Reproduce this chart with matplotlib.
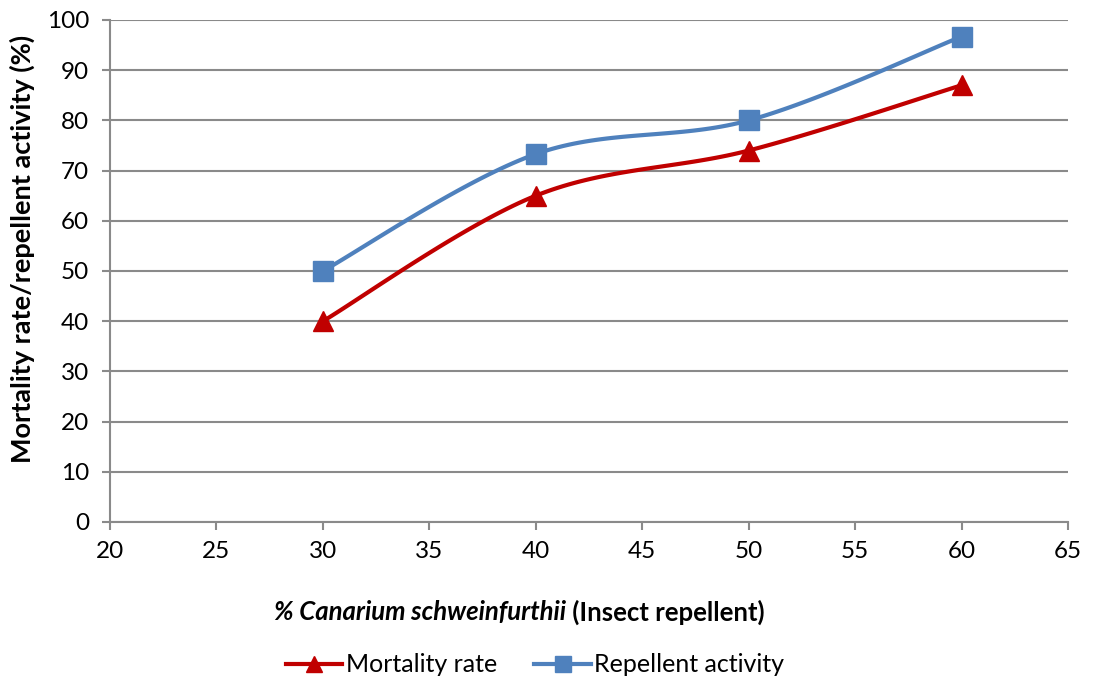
import numpy as np
import matplotlib
matplotlib.use("Agg")
import matplotlib.pyplot as plt
from matplotlib.lines import Line2D

plt.rcParams['font.family'] = ['Lato', 'DejaVu Sans']

concentration = [30, 40, 50, 60]
mortality_rate = [40, 65, 74, 87]
repellent_activity = [50, 73.3, 80, 96.7]

x_ticks = [20, 25, 30, 35, 40, 45, 50, 55, 60, 65]
y_ticks = [0, 10, 20, 30, 40, 50, 60, 70, 80, 90, 100]

RED = '#C00000'
BLUE = '#4F81BD'


def smooth(x, y, n=40):
    x = np.asarray(x, float)
    y = np.asarray(y, float)
    px = np.concatenate([[x[0]], x, [x[-1]]])
    py = np.concatenate([[y[0]], y, [y[-1]]])
    xs, ys = [], []
    for i in range(1, len(x)):
        p0 = np.array([px[i], py[i]])
        p3 = np.array([px[i + 1], py[i + 1]])
        p1 = p0 + (np.array([px[i + 1], py[i + 1]]) - np.array([px[i - 1], py[i - 1]])) / 6
        p2 = p3 - (np.array([px[i + 2], py[i + 2]]) - np.array([px[i], py[i]])) / 6
        t = np.linspace(0, 1, n)[:, None]
        b = (1 - t) ** 3 * p0 + 3 * (1 - t) ** 2 * t * p1 + 3 * (1 - t) * t ** 2 * p2 + t ** 3 * p3
        xs.extend(b[:, 0])
        ys.extend(b[:, 1])
    return np.array(xs), np.array(ys)


fig = plt.figure(figsize=(11.01, 6.83), dpi=100)
ax = fig.add_axes([110 / 1101, 1 - 522 / 683, (1068 - 110) / 1101, (522 - 20) / 683])

sx, sy = smooth(concentration, mortality_rate)
ax.plot(sx, sy, color=RED, lw=3, zorder=3, solid_capstyle='round')
ax.plot(concentration, mortality_rate, ls='none', marker='^', ms=15, color=RED, zorder=4)
sx, sy = smooth(concentration, repellent_activity)
ax.plot(sx, sy, color=BLUE, lw=3, zorder=3, solid_capstyle='round')
ax.plot(concentration, repellent_activity, ls='none', marker='s', ms=15, color=BLUE, zorder=4)

ax.set_xlim(20, 65)
ax.set_ylim(0, 100)
ax.set_xticks(x_ticks)
ax.set_yticks(y_ticks)
ax.grid(axis='y', color='#8a8a8a', lw=1.5)
ax.set_axisbelow(True)
for s in ['top', 'right']:
    ax.spines[s].set_visible(False)
for s in ['left', 'bottom']:
    ax.spines[s].set_color('#8a8a8a')
    ax.spines[s].set_linewidth(1.5)
ax.tick_params(axis='both', colors='#8a8a8a', length=6, width=1.5, labelcolor='black', labelsize=17.5)
ax.tick_params(axis='x', pad=8)
ax.tick_params(axis='y', pad=9)

fig.text(22 / 1101, 1 - 249 / 683, 'Mortality rate/repellent activity (%)', rotation=90,
         ha='center', va='center', fontsize=19.5, fontweight='bold')

t1 = fig.text(274 / 1101, 1 - 612 / 683, '% Canarium schweinfurthii', fontsize=18.5,
              fontweight='bold', fontstyle='italic', ha='left', va='center')
fig.canvas.draw()
ax.annotate(' (Insect repellent)', xy=(1, 0.5), xycoords=t1, ha='left', va='center',
            fontsize=18.5, fontweight='bold', annotation_clip=False)

handles = [Line2D([], [], color=RED, lw=3, marker='^', ms=12),
           Line2D([], [], color=BLUE, lw=3, marker='s', ms=12)]
fig.legend(handles, ['Mortality rate', 'Repellent activity'], loc='center',
           bbox_to_anchor=(535 / 1101, 1 - 665 / 683), ncol=2, frameon=False,
           fontsize=18, handlelength=2.25, handletextpad=0.15, columnspacing=1.5,
           borderpad=0, borderaxespad=0)

fig.savefig('out.png', dpi=100)
